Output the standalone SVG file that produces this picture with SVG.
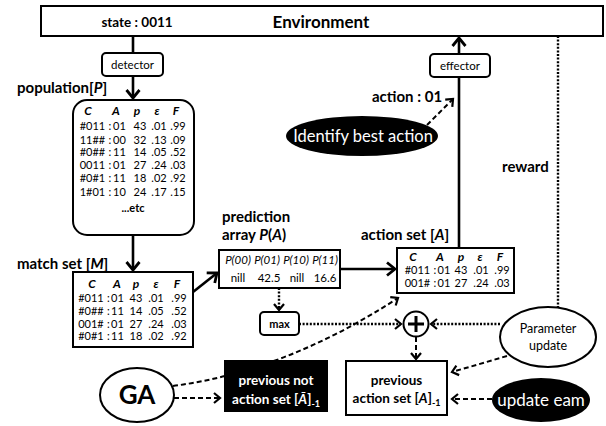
<svg xmlns="http://www.w3.org/2000/svg" width="606" height="426" viewBox="0 0 606 426">
  <style>
    text { font-family: Lato, "Noto Sans", "DejaVu Sans", sans-serif; fill: #000; }
    .box { fill: #fff; stroke: #000; stroke-width: 2; }
    .blk { fill: #000; stroke: none; }
    .lbl { font-size: 15px; font-weight: bold; }
    .hd { font-size: 12px; font-weight: bold; font-style: italic; text-anchor: middle; }
    .row { font-size: 11px; text-anchor: middle; }
    .mid { text-anchor: middle; }
    .wt { fill: #fff; }
    .solid { fill: none; stroke: #000; stroke-width: 2.6; }
    .dash { fill: none; stroke: #000; stroke-width: 2; stroke-dasharray: 5 3; }
    .dot { fill: none; stroke: #000; stroke-width: 2.4; stroke-dasharray: 2 1.6; }
  </style>
  <defs>
    <marker id="chev" markerUnits="userSpaceOnUse" markerWidth="20" markerHeight="20" viewBox="-12 -10 16 20" refX="0" refY="0" orient="auto">
      <path d="M-8,-6.5 L0,0 L-8,6.5" fill="none" stroke="#000" stroke-width="2.8" stroke-dasharray="none"/>
    </marker>
    <marker id="chev-s" markerUnits="userSpaceOnUse" markerWidth="20" markerHeight="20" viewBox="-12 -10 16 20" refX="0" refY="0" orient="auto">
      <path d="M-6,-5 L0,0 L-6,5" fill="none" stroke="#000" stroke-width="2.2" stroke-dasharray="none"/>
    </marker>
  </defs>

  <!-- environment bar -->
  <g id="environment">
    <rect class="box" x="41" y="6" width="562" height="30"/>
    <text x="137" y="27" class="mid" font-size="13.5" font-weight="bold">state : 0011</text>
    <text x="321" y="28" class="mid" font-size="17" font-weight="bold">Environment</text>
  </g>

  <!-- connectors -->
  <g id="connectors">
    <line class="solid" x1="133" y1="36" x2="133" y2="53"/>
    <line class="solid" x1="133" y1="76" x2="133" y2="98" marker-end="url(#chev)"/>
    <line class="solid" x1="133" y1="235" x2="133" y2="270" marker-end="url(#chev)"/>
    <line class="solid" x1="193" y1="292" x2="217" y2="273" marker-end="url(#chev)"/>
    <line class="solid" x1="340" y1="269" x2="395" y2="269" marker-end="url(#chev)"/>
    <line class="solid" x1="459" y1="248" x2="459" y2="77"/>
    <line class="solid" x1="459" y1="54" x2="459" y2="38" marker-end="url(#chev)"/>
    <line class="dash" x1="427" y1="125" x2="453" y2="99" marker-end="url(#chev-s)"/>
    <line class="dot" x1="279" y1="288" x2="279" y2="310" marker-end="url(#chev-s)"/>
    <line class="dot" x1="299" y1="324" x2="401" y2="324" marker-end="url(#chev-s)"/>
    <line class="dot" x1="500" y1="324" x2="431" y2="324" marker-end="url(#chev-s)"/>
    <line class="dot" x1="558" y1="36" x2="558" y2="307"/>
    <path class="dash" d="M173,386 Q286,371 398,298" marker-end="url(#chev-s)"/>
    <line class="dash" x1="174" y1="398" x2="220" y2="398" marker-end="url(#chev-s)"/>
    <line class="dash" x1="416" y1="337" x2="416" y2="359" marker-end="url(#chev-s)"/>
    <line class="dash" x1="507" y1="356" x2="452" y2="372" marker-end="url(#chev-s)"/>
    <line class="dash" x1="492" y1="399" x2="452" y2="399" marker-end="url(#chev-s)"/>
  </g>

  <g id="detector">
    <rect class="box" x="102" y="53" width="61" height="23" rx="4"/>
    <text x="132.5" y="69" class="mid" font-size="11.5">detector</text>
  </g>

  <g id="effector">
    <rect class="box" x="430" y="54" width="60" height="23" rx="4"/>
    <text x="460" y="70" class="mid" font-size="11.5">effector</text>
  </g>

  <text x="372" y="102" class="lbl" font-size="14.5">action : 01</text>
  <text x="502" y="172" class="lbl">reward</text>

  <g id="identify-best-action">
    <ellipse class="blk" cx="362" cy="136" rx="76" ry="20"/>
    <text x="363" y="142" class="mid wt" font-size="16.5">Identify best action</text>
  </g>

  <!-- population [P] -->
  <g id="population">
    <text x="17" y="93" class="lbl" font-size="16">population[<tspan font-style="italic">P</tspan>]</text>
    <rect class="box" x="73" y="100" width="121" height="135" rx="14"/>
    <text y="115" class="hd"><tspan x="88">C</tspan><tspan x="116">A</tspan><tspan x="137">p</tspan><tspan x="157">ε</tspan><tspan x="176">F</tspan></text>
    <text y="130" class="row"><tspan x="92.5">#011</tspan><tspan x="110">:</tspan><tspan x="119.5">01</tspan><tspan x="140">43</tspan><tspan x="159">.01</tspan><tspan x="178">.99</tspan></text>
    <text y="143.5" class="row"><tspan x="92.5">11##</tspan><tspan x="110">:</tspan><tspan x="119.5">00</tspan><tspan x="140">32</tspan><tspan x="159">.13</tspan><tspan x="178">.09</tspan></text>
    <text y="155.5" class="row"><tspan x="92.5">#0##</tspan><tspan x="110">:</tspan><tspan x="119.5">11</tspan><tspan x="140">14</tspan><tspan x="159">.05</tspan><tspan x="178">.52</tspan></text>
    <text y="169" class="row"><tspan x="92.5">0011</tspan><tspan x="110">:</tspan><tspan x="119.5">01</tspan><tspan x="140">27</tspan><tspan x="159">.24</tspan><tspan x="178">.03</tspan></text>
    <text y="182" class="row"><tspan x="92.5">#0#1</tspan><tspan x="110">:</tspan><tspan x="119.5">11</tspan><tspan x="140">18</tspan><tspan x="159">.02</tspan><tspan x="178">.92</tspan></text>
    <text y="195.5" class="row"><tspan x="92.5">1#01</tspan><tspan x="110">:</tspan><tspan x="119.5">10</tspan><tspan x="140">24</tspan><tspan x="159">.17</tspan><tspan x="178">.15</tspan></text>
    <text x="133" y="212" class="row" font-weight="bold">...etc</text>
  </g>

  <!-- match set [M] -->
  <g id="match-set">
    <text x="17" y="269" class="lbl">match set [<tspan font-style="italic">M</tspan>]</text>
    <rect class="box" x="73" y="272" width="120" height="75"/>
    <text y="288" class="hd"><tspan x="92">C</tspan><tspan x="117">A</tspan><tspan x="136">p</tspan><tspan x="156">ε</tspan><tspan x="177">F</tspan></text>
    <text y="301.5" class="row"><tspan x="91">#011</tspan><tspan x="108.5">:</tspan><tspan x="117.5">01</tspan><tspan x="136">43</tspan><tspan x="156">.01</tspan><tspan x="179">.99</tspan></text>
    <text y="314.5" class="row"><tspan x="91">#0##</tspan><tspan x="108.5">:</tspan><tspan x="117.5">11</tspan><tspan x="136">14</tspan><tspan x="156">.05</tspan><tspan x="179">.52</tspan></text>
    <text y="327.5" class="row"><tspan x="91">001#</tspan><tspan x="108.5">:</tspan><tspan x="117.5">01</tspan><tspan x="136">27</tspan><tspan x="156">.24</tspan><tspan x="179">.03</tspan></text>
    <text y="339.5" class="row"><tspan x="91">#0#1</tspan><tspan x="108.5">:</tspan><tspan x="117.5">11</tspan><tspan x="136">18</tspan><tspan x="156">.02</tspan><tspan x="179">.92</tspan></text>
  </g>

  <!-- prediction array P(A) -->
  <g id="prediction-array">
    <text x="222" y="222" class="lbl">prediction</text>
    <text x="222" y="240" class="lbl">array <tspan font-style="italic">P</tspan>(<tspan font-style="italic">A</tspan>)</text>
    <rect class="box" x="219" y="250" width="121" height="38"/>
    <text y="264" class="mid" font-size="11.5" font-style="italic"><tspan x="238">P(00)</tspan><tspan x="267">P(01)</tspan><tspan x="296">P(10)</tspan><tspan x="325">P(11)</tspan></text>
    <text y="282" class="mid" font-size="11.5"><tspan x="238">nill</tspan><tspan x="269">42.5</tspan><tspan x="297">nill</tspan><tspan x="325">16.6</tspan></text>
  </g>

  <!-- action set [A] -->
  <g id="action-set">
    <text x="361" y="240" class="lbl">action set [<tspan font-style="italic">A</tspan>]</text>
    <rect class="box" x="397" y="248" width="117" height="45"/>
    <text y="261" class="hd" font-size="11.5"><tspan x="413">C</tspan><tspan x="440">A</tspan><tspan x="461">p</tspan><tspan x="480">ε</tspan><tspan x="500">F</tspan></text>
    <text y="273.5" class="row"><tspan x="417.5">#011</tspan><tspan x="435">:</tspan><tspan x="444">01</tspan><tspan x="461">43</tspan><tspan x="481">.01</tspan><tspan x="502">.99</tspan></text>
    <text y="287" class="row"><tspan x="417.5">001#</tspan><tspan x="435">:</tspan><tspan x="444">01</tspan><tspan x="461">27</tspan><tspan x="481">.24</tspan><tspan x="502">.03</tspan></text>
  </g>

  <g id="max">
    <rect class="box" x="260" y="312" width="39" height="23" rx="4"/>
    <text x="279.5" y="328" class="mid" font-size="11" font-weight="bold">max</text>
  </g>

  <g id="sum">
    <circle class="box" cx="416" cy="324" r="12.5"/>
    <path d="M408,324 H424 M416,316 V332" stroke="#000" stroke-width="3"/>
  </g>

  <g id="parameter-update">
    <ellipse class="box" cx="548" cy="337" rx="48" ry="30"/>
    <text x="548" y="333" class="mid" font-size="12.5">Parameter</text>
    <text x="548" y="350" class="mid" font-size="12.5">update</text>
  </g>

  <g id="ga">
    <ellipse class="box" cx="137" cy="395" rx="37" ry="27"/>
    <text x="137" y="404" class="mid" font-size="26" font-weight="bold">GA</text>
  </g>

  <g id="previous-not-action-set">
    <rect class="blk" x="224" y="360" width="104" height="52"/>
    <text x="276" y="385" class="mid wt" font-size="13.5" font-weight="bold">previous not</text>
    <text x="276" y="404" class="mid wt" font-size="13.5" font-weight="bold">action set [<tspan font-style="italic">Ā</tspan>]<tspan font-size="9" dy="3">-1</tspan></text>
  </g>

  <g id="previous-action-set">
    <rect class="box" x="346" y="361" width="101" height="54"/>
    <text x="396.5" y="385" class="mid" font-size="13.5" font-weight="bold">previous</text>
    <text x="396.5" y="403" class="mid" font-size="13.5" font-weight="bold">action set [<tspan font-style="italic">A</tspan>]<tspan font-size="9" dy="3">-1</tspan></text>
  </g>

  <g id="update-eam">
    <ellipse class="blk" cx="541" cy="400" rx="49" ry="22"/>
    <text x="541" y="406" class="mid wt" font-size="17">update eam</text>
  </g>
</svg>
